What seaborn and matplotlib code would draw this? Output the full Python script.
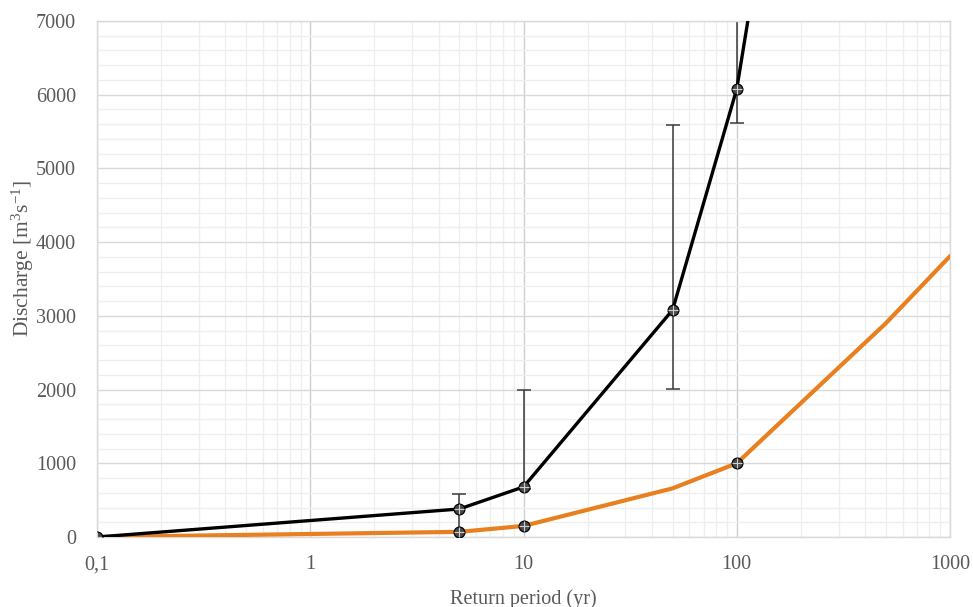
import numpy as np
import pandas as pd
import matplotlib
matplotlib.use("Agg")
import matplotlib.pyplot as plt
import matplotlib.ticker as mticker
import seaborn as sns

# return periods (yr) and discharge (m3/s)
black_T = [0.1, 5, 10, 50, 100, 500]
black_Q = [0, 380, 680, 3080, 6080, 18500]
err_T = [5, 10, 50, 100]
err_Q = [380, 680, 3080, 6080]
err_lo = [70, 650, 2010, 5610]
err_hi = [590, 2000, 5590, 9000]
black_mark_T = [0.1, 5, 10, 50, 100]
black_mark_Q = [0, 380, 680, 3080, 6080]

orange_T = [0.1, 5, 10, 50, 100, 500, 1000]
orange_Q = [0, 70, 150, 660, 1000, 2900, 3810]
orange_mark_T = [5, 10, 100]
orange_mark_Q = [70, 150, 1000]

xticks = [0.1, 1, 10, 100, 1000]
xticklabels = ["0,1", "1", "10", "100", "1000"]
yticks = [0, 1000, 2000, 3000, 4000, 5000, 6000, 7000]

sns.set_style("white")
plt.rcParams['font.family'] = ['Liberation Serif', 'DejaVu Serif']
plt.rcParams['mathtext.default'] = 'regular'
txt = "#595959"

fig = plt.figure(figsize=(9.73, 6.07), dpi=100)
ax = fig.add_axes([0.0997, 0.1153, 0.8767, 0.8501])

df = pd.concat([
    pd.DataFrame({"T": black_T, "Q": black_Q, "s": "obs"}),
    pd.DataFrame({"T": orange_T, "Q": orange_Q, "s": "model"}),
])
sns.lineplot(data=df, x="T", y="Q", hue="s", palette={"obs": "black", "model": "#E8801F"},
             ax=ax, legend=False, sort=False, zorder=4)
for ln, w in zip(ax.lines, [2.4, 3.0]):
    ln.set_linewidth(w)
ax.lines[1].set_zorder(3)

yerr = [np.array(err_Q) - np.array(err_lo), np.array(err_hi) - np.array(err_Q)]
ax.errorbar(err_T, err_Q, yerr=yerr, fmt="none", ecolor="#3a3a3a", elinewidth=1.1,
            capsize=5, capthick=1.1, zorder=2)

for tx, qy in [(black_mark_T, black_mark_Q), (orange_mark_T, orange_mark_Q)]:
    sns.scatterplot(x=tx, y=qy, ax=ax, marker="o", s=60, color="#4a4a4a",
                    edgecolor="black", linewidth=0.9, zorder=5)
    sns.scatterplot(x=tx, y=qy, ax=ax, marker="+", s=45, color="#cfcfcf",
                    linewidth=0.8, zorder=6)

ax.set_xscale("log")
ax.set_xlim(0.1, 1000)
ax.set_ylim(0, 7000)
ax.set_xticks(xticks)
ax.set_xticklabels(xticklabels)
ax.set_yticks(yticks)
ax.xaxis.set_minor_locator(mticker.LogLocator(base=10, subs=np.arange(2, 10)))
ax.xaxis.set_minor_formatter(mticker.NullFormatter())
ax.yaxis.set_minor_locator(mticker.MultipleLocator(200))

ax.grid(which="major", axis="x", color="#cfcfcf", lw=1.0)
ax.grid(which="major", axis="y", color="#d9d9d9", lw=1.0)
ax.grid(which="minor", color="#eeeeee", lw=0.9)
ax.set_axisbelow(True)
for sp in ax.spines.values():
    sp.set_color("#d9d9d9")
    sp.set_linewidth(1.0)

ax.tick_params(axis="x", which="both", length=0, colors=txt, labelsize=14.5, pad=13)
ax.tick_params(axis="y", which="both", length=0, colors=txt, labelsize=14.5, pad=15)
ax.set_xlabel("Return period (yr)", color=txt, fontsize=14.5)
ax.set_ylabel("Discharge [m$^3$s$^{-1}$]", color=txt, fontsize=15.5)
ax.xaxis.set_label_coords(0.5, -0.101)
ax.yaxis.set_label_coords(-0.071, 0.54)

fig.savefig("out.png", dpi=100)
